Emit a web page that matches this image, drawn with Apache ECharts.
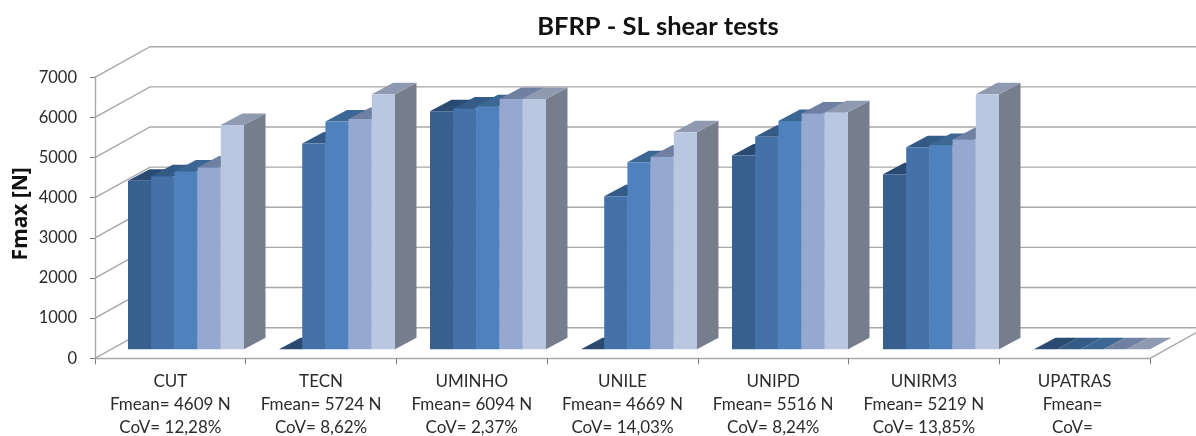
<!DOCTYPE html>
<html>
<head>
<meta charset="utf-8">
<style>html,body{margin:0;padding:0;background:#fff}#c{width:1196px;height:436px}</style>
<script src="https://cdn.jsdelivr.net/npm/echarts@6/dist/echarts.min.js"></script>
</head>
<body>
<div id="c"></div>
<script>
const categories = ['CUT','TECN','UMINHO','UNILE','UNIPD','UNIRM3','UPATRAS'];
const fmean = ['4609 N','5724 N','6094 N','4669 N','5516 N','5219 N',''];
const cov = ['12,28%','8,62%','2,37%','14,03%','8,24%','13,85%',''];
const specimen1 = [4197,0,5930,0,4827,4363,0];
const specimen2 = [4313,5126,5997,3815,5292,5034,0];
const specimen3 = [4429,5673,6055,4661,5690,5092,0];
const specimen4 = [4528,5739,6237,4794,5872,5225,0];
const specimen5 = [5590,6353,6237,5408,5905,6353,0];
const yTicks = [0,1000,2000,3000,4000,5000,6000,7000];

const seriesValues = [specimen1,specimen2,specimen3,specimen4,specimen5];
const palette = [
  {front:'#38608f',top:'#2b4a72',side:'#2b4a72'},
  {front:'#4472a8',top:'#345a86',side:'#345a86'},
  {front:'#4f81bd',top:'#3c6694',side:'#3c6694'},
  {front:'#95a9d0',top:'#7080a3',side:'#7080a3'},
  {front:'#b9c7e0',top:'#8f9ab0',side:'#767e8e'}
];
const wallDX = 55, wallDY = -30.6;
const barDX = 21.5, barDY = -11.5;
const lineCol = '#a8a8a8';
const font = 'Lato';

function wallItem(params, api){
  const r = params.coordSys;
  const v = api.value(0);
  const y = api.coord([0, v])[1];
  const x0 = r.x, x1 = r.x + r.width;
  const shapes = [{type:'polyline',shape:{points:[[x0,y],[x0+wallDX,y+wallDY],[x1+wallDX,y+wallDY]]},
    style:{stroke:lineCol,lineWidth:1.4,fill:null},silent:true}];
  if (v === 0) {
    shapes.push({type:'line',shape:{x1:x1,y1:y,x2:x1+wallDX,y2:y+wallDY},style:{stroke:lineCol,lineWidth:1.4},silent:true});
  }
  return {type:'group',children:shapes};
}
function barItem(idx){
  const n = seriesValues.length;
  return function(params, api){
    const barW = 23.2;
    const c = api.coord([api.value(0), api.value(1)]);
    const base = api.coord([api.value(0), 0]);
    const xl = c[0] - barW*n/2 + idx*barW, xr = xl + barW;
    const yt = c[1], yb = base[1];
    const col = palette[idx];
    const kids = [];
    kids.push({type:'polygon',shape:{points:[[xr,yt],[xr+barDX,yt+barDY],[xr+barDX,yb+barDY],[xr,yb]]},style:{fill:col.side}});
    kids.push({type:'polygon',shape:{points:[[xl,yt],[xl+barDX,yt+barDY],[xr+barDX,yt+barDY],[xr,yt]]},style:{fill:col.top}});
    if (yb > yt) kids.push({type:'rect',shape:{x:xl,y:yt,width:barW,height:yb-yt},style:{fill:col.front}});
    return {type:'group',children:kids};
  };
}
const chart = echarts.init(document.getElementById('c'),null,{renderer:'canvas'});
const barSeries = seriesValues.map((vals,k)=>({
  type:'custom',name:'Specimen '+(k+1),xAxisIndex:1,yAxisIndex:1,
  data:vals.map((v,i)=>[i,v]),encode:{x:0,y:1},renderItem:barItem(k),clip:false,z:3
}));
chart.setOption({
  animation:false,
  backgroundColor:'#fff',
  title:{text:'BFRP - SL shear tests',left:653,top:9,textAlign:'center',
    textStyle:{fontFamily:font,fontWeight:'bold',fontSize:25.5,color:'#111'}},
  grid:[
    {left:95,width:1055,top:77.3,height:281,outerBoundsMode:'none',containLabel:false},
    {left:110.5,width:1057,top:68.3,height:281,outerBoundsMode:'none',containLabel:false}
  ],
  xAxis:[
    {type:'category',gridIndex:0,data:categories,
     axisLine:{lineStyle:{color:lineCol,width:1.4}},
     axisTick:{show:true,length:6,lineStyle:{color:'#808080'},alignWithLabel:false},
     axisLabel:{interval:0,margin:12,color:'#2b2b2b',fontFamily:font,fontSize:17,lineHeight:23,hideOverlap:false,
       formatter:(v,i)=>[v,'Fmean= '+fmean[i],'CoV= '+cov[i]].join('\n')}},
    {type:'category',gridIndex:1,data:categories,show:false}
  ],
  yAxis:[
    {type:'value',gridIndex:0,min:0,max:7000,interval:1000,
     name:'Fmax [N]',nameLocation:'middle',nameGap:63,nameMoveOverlap:false,
     nameTextStyle:{fontFamily:'Noto Sans',fontWeight:'bold',fontSize:21,color:'#111',padding:[0,0,0,8]},
     axisLine:{show:true,lineStyle:{color:lineCol,width:1.4}},
     axisTick:{show:true,length:5,lineStyle:{color:'#808080'}},
     axisLabel:{margin:18,color:'#2b2b2b',fontFamily:font,fontSize:16.5,formatter:v=>String(v)},
     splitLine:{show:false}},
    {type:'value',gridIndex:1,min:0,max:7000,interval:1000,show:false,splitLine:{show:false}}
  ],
  series:[
    {type:'custom',name:'walls',xAxisIndex:0,yAxisIndex:0,
     data:yTicks.map(v=>[v]),encode:{y:0},renderItem:wallItem,clip:false,silent:true,z:1}
  ].concat(barSeries)
});
</script>
</body>
</html>
